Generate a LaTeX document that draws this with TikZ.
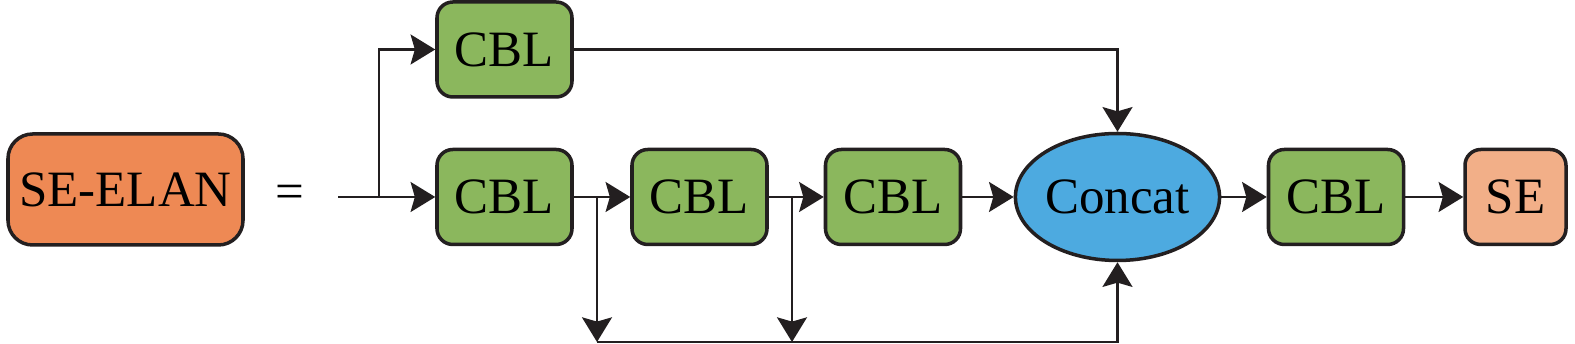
\documentclass[tikz,border=0pt]{standalone}
\usepackage{fontspec}
\setmainfont{Liberation Serif}
\usepackage{xcolor}
\definecolor{elanorange}{RGB}{238,137,84}
\definecolor{selight}{RGB}{242,175,136}
\definecolor{cblgreen}{RGB}{139,183,93}
\definecolor{catblue}{RGB}{77,170,224}
\definecolor{lineblack}{RGB}{35,31,32}
\usetikzlibrary{arrows.meta,positioning,shapes.geometric}

\begin{document}
\begin{tikzpicture}[
  cblbox/.style={draw=lineblack, line width=1pt, fill=cblgreen, rounded corners=4.5pt, minimum width=1.35cm, minimum height=0.95cm, inner sep=0pt, font=\fontsize{14.5}{17}\selectfont},
  arr/.style={draw=lineblack, line width=0.8pt, -{Stealth[length=7pt, width=8.5pt, inset=1.2pt]}}
]
  \useasboundingbox (0,0) rectangle (15.75,3.44);

  % Left side
  \node[draw=lineblack, line width=1pt, fill=elanorange, rounded corners=7pt, minimum width=2.35cm, minimum height=1.11cm, inner sep=0pt, font=\fontsize{14.5}{17}\selectfont] (seelan) at (1.255,1.545) {SE-ELAN};
  \node[font=\fontsize{14.5}{17}\selectfont] (eq) at (2.9,1.47) {=};

  % Blocks
  \node[cblbox] (cbl0) at (5.045,2.945) {CBL};
  \node[cblbox] (cbl1) at (5.045,1.47) {CBL};
  \node[cblbox] (cbl2) at (6.995,1.47) {CBL};
  \node[cblbox] (cbl3) at (8.93,1.47) {CBL};
  \node[draw=lineblack, line width=1pt, fill=catblue, ellipse, minimum width=1.92cm, minimum height=1.27cm, inner sep=0pt, font=\fontsize{14.5}{17}\selectfont] (concat) at (11.175,1.47) {Concat};
  \node[cblbox] (cbl4) at (13.36,1.47) {CBL};
  \node[cblbox, fill=selight, minimum width=1.01cm] (se) at (15.155,1.47) {SE};

  % Branch points
  \coordinate (in) at (3.38,1.47);
  \coordinate (br) at (3.79,1.47);
  \coordinate (s1) at (5.97,1.47);
  \coordinate (s2) at (7.92,1.47);
  \coordinate (b1) at (5.97,0.02);
  \coordinate (b2) at (7.92,0.02);

  % Connectors
  \draw[arr] (in) -- (cbl1);
  \draw[arr] (br) |- (cbl0.west);
  \draw[arr] (cbl1) -- (cbl2);
  \draw[arr] (cbl2) -- (cbl3);
  \draw[arr] (cbl3) -- (concat);
  \draw[arr] (concat) -- (cbl4);
  \draw[arr] (cbl4) -- (se);
  \draw[arr] (cbl0.east) -| (concat.north);
  \draw[arr] (s1) -- (b1);
  \draw[arr] (s2) -- (b2);
  \draw[arr] (b1) -| (concat.south);
\end{tikzpicture}
\end{document}
